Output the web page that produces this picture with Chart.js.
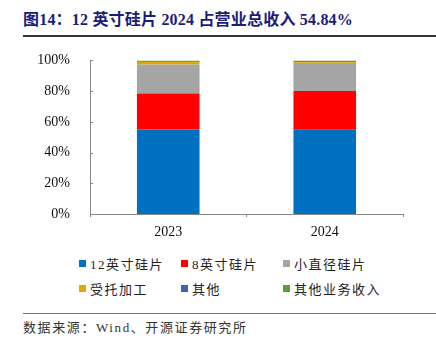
<!DOCTYPE html>
<html>
<head>
<meta charset="utf-8">
<script src="https://cdn.jsdelivr.net/npm/chart.js@4/dist/chart.umd.min.js"></script>
<style>
  html, body { margin: 0; padding: 0; background: #fff; }
  #wrap { position: relative; width: 436px; height: 346px; overflow: hidden;
          font-family: "Liberation Serif", "Noto Sans CJK SC", serif; }
  #title { position: absolute; left: 23px; top: 6px; font-size: 16px; font-weight: bold;
           color: #1c1c7c; white-space: nowrap; letter-spacing: 0.2px; }
  #rule1 { position: absolute; left: 23px; right: 0; top: 35px; height: 2px; background: #333; }
  #chartBox { position: absolute; left: 0; top: 40px; width: 436px; height: 210px; }
  #legend { position: absolute; left: 79px; top: 254px; width: 340px; }
  .item { position: absolute; display: flex; align-items: center; font-size: 13px; color: #222;
          white-space: nowrap; letter-spacing: 1.5px; }
  .sw { width: 7px; height: 7px; margin-right: 4px; }
  #rule2 { position: absolute; left: 23px; right: 0; top: 313px; height: 1px; background: #777; }
  #source { position: absolute; left: 23px; top: 317px; font-size: 13px; color: #333; white-space: nowrap;
            letter-spacing: 1.6px; }
</style>
</head>
<body>
<div id="wrap">
  <div id="title">图14：12 英寸硅片 2024 占营业总收入 54.84%</div>
  <div id="rule1"></div>
  <div id="chartBox"><canvas id="c" width="436" height="210"></canvas></div>
  <div id="legend"></div>
  <div id="rule2"></div>
  <div id="source">数据来源：Wind、开源证券研究所</div>
</div>
<script>
// Revenue mix by product line (% of total revenue)
const years = ["2023", "2024"];
const wafer12 = [55.0, 54.84];
const wafer8 = [23.4, 25.3];
const smallDiameter = [19.0, 18.2];
const foundry = [1.6, 0.4];
const other = [0.1, 0.06];
const otherBusiness = [0.9, 1.2];
const yTicks = [0, 20, 40, 60, 80, 100];

const seriesNames = ["12英寸硅片", "8英寸硅片", "小直径硅片", "受托加工", "其他", "其他业务收入"];
const seriesData = [wafer12, wafer8, smallDiameter, foundry, other, otherBusiness];
const seriesColors = ["#0070C0", "#FF0000", "#A5A5A5", "#E3A800", "#3E63B0", "#5E9C3A"];

// HTML legend: three columns, two rows
const legendEl = document.getElementById("legend");
const colX = [0, 102, 204];
seriesNames.forEach((name, i) => {
  const d = document.createElement("div");
  d.className = "item";
  d.style.left = colX[i % 3] + "px";
  d.style.top = (Math.floor(i / 3) * 25) + "px";
  d.innerHTML = '<span class="sw" style="background:' + seriesColors[i] + '"></span>' + name;
  legendEl.appendChild(d);
});

// Short inward tick marks on the value axis
const innerTicks = {
  id: "innerTicks",
  afterDraw(chart) {
    const y = chart.scales.y, ctx = chart.ctx;
    const x0 = chart.chartArea.left;
    ctx.save();
    ctx.strokeStyle = "#888";
    ctx.lineWidth = 1;
    yTicks.forEach(v => {
      const py = Math.round(y.getPixelForValue(v)) + 0.5;
      ctx.beginPath();
      ctx.moveTo(x0, py);
      ctx.lineTo(x0 + 3, py);
      ctx.stroke();
    });
    ctx.restore();
  }
};

new Chart(document.getElementById("c"), {
  type: "bar",
  data: {
    labels: years,
    datasets: seriesNames.map((n, i) => ({
      label: n,
      data: seriesData[i],
      backgroundColor: seriesColors[i],
      borderWidth: 0,
      categoryPercentage: 0.4,
      barPercentage: 1.0
    }))
  },
  options: {
    responsive: false,
    animation: false,
    devicePixelRatio: 1,
    layout: { padding: { left: 0, right: 33, top: 18, bottom: 10 } },
    plugins: { legend: { display: false }, tooltip: { enabled: false } },
    scales: {
      x: {
        stacked: true,
        grid: { display: true, offset: true, drawOnChartArea: false, drawTicks: true, tickLength: 3, color: "#888" },
        border: { display: true, color: "#888", width: 1 },
        ticks: { color: "#111", font: { family: "Liberation Serif", size: 14 }, padding: 7 },
        afterFit(s) { s.height = 26; }
      },
      y: {
        stacked: true,
        min: 0, max: 100,
        afterBuildTicks(s) { s.ticks = yTicks.map(v => ({ value: v })); },
        grid: { display: false },
        border: { display: true, color: "#888", width: 1 },
        ticks: { color: "#111", font: { family: "Liberation Serif", size: 14 }, padding: 12,
                 callback: v => v + "%" },
        afterFit(s) { s.width = 90; }
      }
    }
  },
  plugins: [innerTicks]
});
</script>
</body>
</html>
